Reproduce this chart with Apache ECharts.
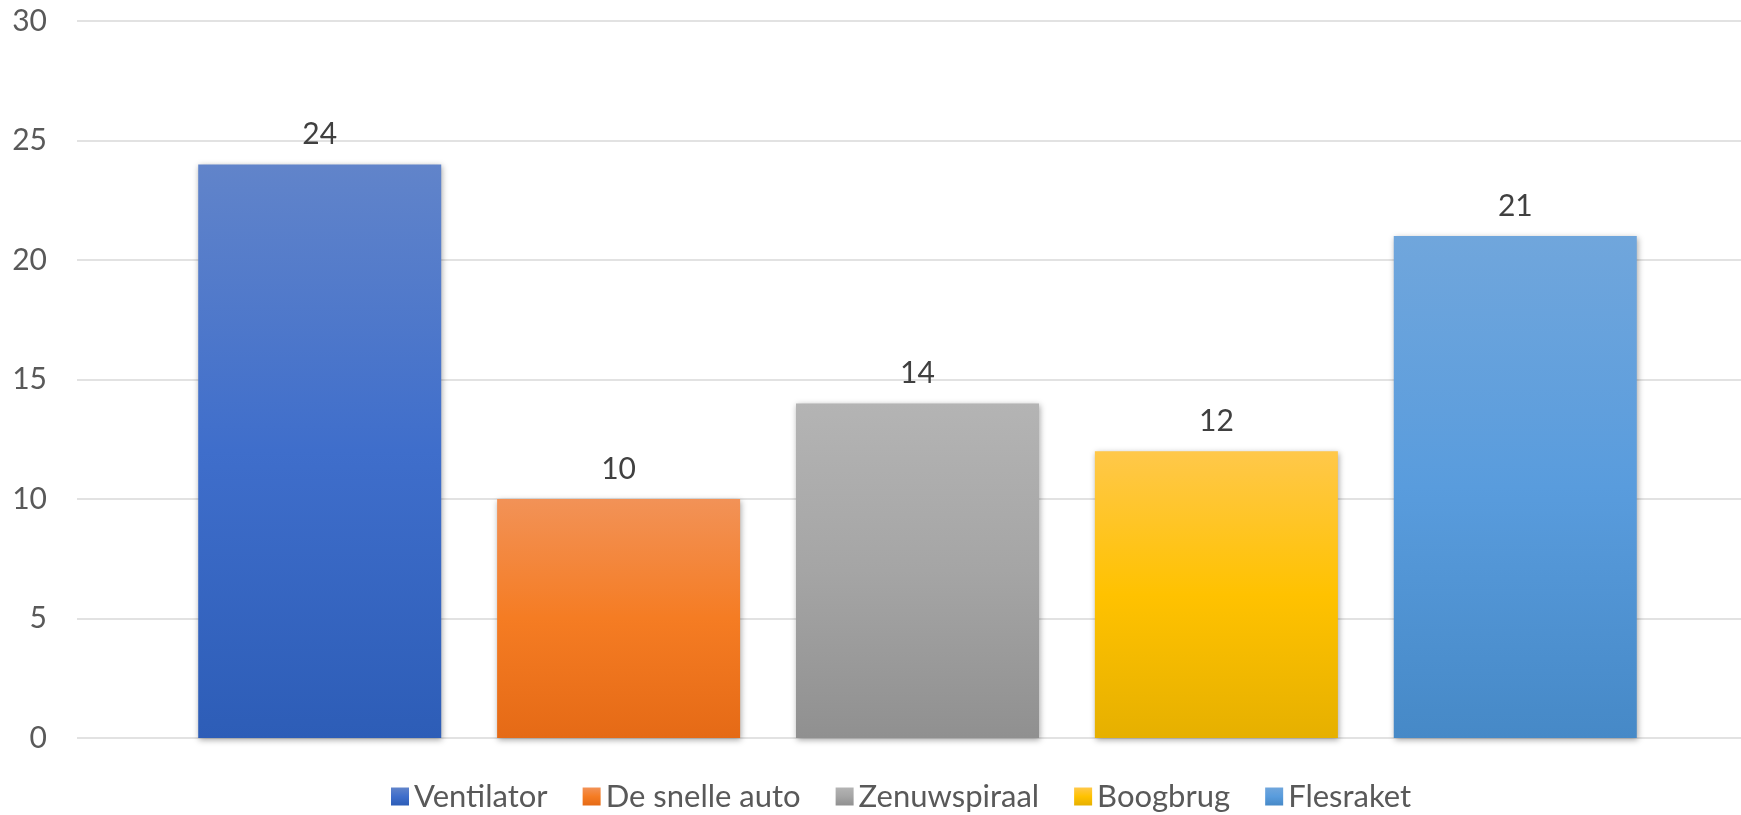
<!DOCTYPE html>
<html>
<head>
<meta charset="utf-8">
<script src="https://cdn.jsdelivr.net/npm/echarts@6/dist/echarts.min.js"></script>
<style>
html,body{margin:0;padding:0;background:#fff;overflow:hidden;width:1741px;height:815px;}
#chart{width:1758px;height:815px;}
</style>
</head>
<body>
<div id="chart"></div>
<script>
const categories = [''];
const seriesNames = ['Ventilator', 'De snelle auto', 'Zenuwspiraal', 'Boogbrug', 'Flesraket'];
const seriesValues = [24, 10, 14, 12, 21];
const yTicks = { min: 0, max: 30, interval: 5 };

const gradientStops = [
  ['#6184CA', '#3F6ECB', '#2D5DB7'],
  ['#F29257', '#F57C23', '#E56A16'],
  ['#B4B4B4', '#A5A5A5', '#909090'],
  ['#FFC84A', '#FFC200', '#E6B000'],
  ['#70A6DC', '#599CDD', '#4689C7']
];

function grad(c) {
  return new echarts.graphic.LinearGradient(0, 0, 0, 1, [
    { offset: 0, color: c[0] },
    { offset: 0.5, color: c[1] },
    { offset: 1, color: c[2] }
  ]);
}

const FONT = 'Lato';

const series = seriesNames.map((name, i) => ({
  name: name,
  type: 'bar',
  data: [seriesValues[i]],
  barWidth: 243,
  barGap: '23%',
  itemStyle: {
    color: grad(gradientStops[i]),
    shadowColor: 'rgba(0,0,0,0.35)',
    shadowBlur: 6,
    shadowOffsetX: 1,
    shadowOffsetY: 2
  },
  label: {
    show: true,
    position: 'top',
    distance: 15,
    color: '#404040',
    fontFamily: FONT,
    fontSize: 30
  },
  emphasis: { disabled: true }
}));

const chart = echarts.init(document.getElementById('chart'), null, { renderer: 'canvas' });
chart.setOption({
  animation: false,
  backgroundColor: '#ffffff',
  grid: { left: 77, right: 0, top: 21, bottom: 77, containLabel: false },
  legend: {
    top: 776,
    left: 386,
    icon: 'rect',
    itemWidth: 18,
    itemHeight: 18,
    itemGap: 35,
    textStyle: { color: '#595959', fontFamily: FONT, fontSize: 31 },
    data: seriesNames
  },
  xAxis: {
    type: 'category',
    data: categories,
    axisLine: { show: false },
    axisTick: { show: false },
    axisLabel: { show: false },
    splitLine: { show: false }
  },
  yAxis: {
    type: 'value',
    min: yTicks.min,
    max: yTicks.max,
    interval: yTicks.interval,
    axisLine: { show: false },
    axisTick: { show: false },
    axisLabel: { color: '#595959', fontFamily: FONT, fontSize: 30, margin: 30 },
    splitLine: { show: true, lineStyle: { color: '#D9D9D9', width: 1.5 } }
  },
  series: series
});
</script>
</body>
</html>
